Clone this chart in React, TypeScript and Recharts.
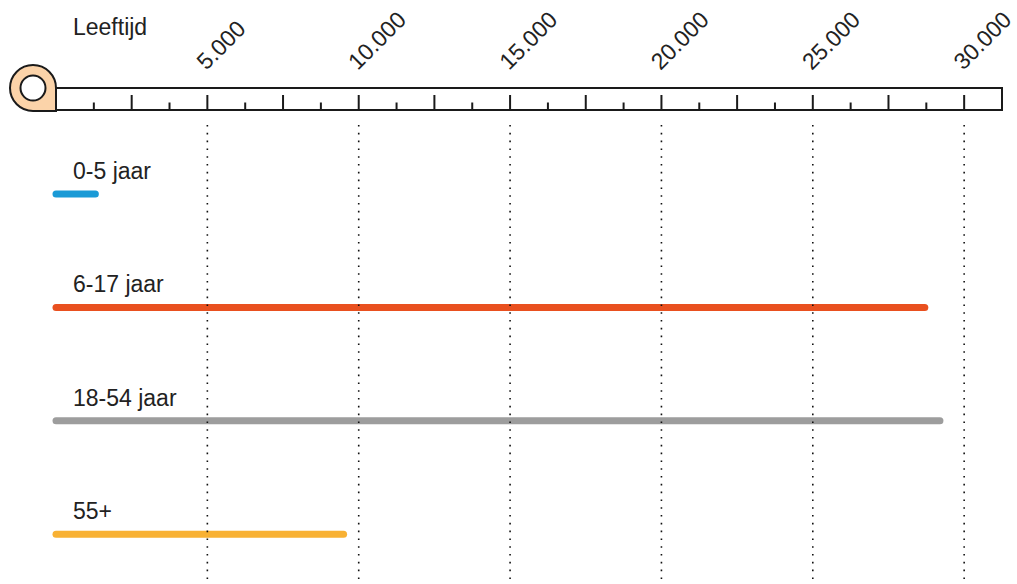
import { BarChart, Bar, XAxis, YAxis, ReferenceLine, LabelList, Cell } from 'recharts'

// Aantal per leeftijdsgroep
const AGE_GROUPS = ['0-5 jaar', '6-17 jaar', '18-54 jaar', '55+']
const COUNTS = [1300, 28700, 29200, 9500]
const BAR_COLORS = ['#1a9ad6', '#e9501f', '#9d9d9d', '#f8b133']

// Ruler along the top: minor marks every 1250, labels every 5000
const RULER_MAX = 31250
const RULER_STEP = 1250
const LABEL_STEP = 5000
const GRID_VALUES = [5000, 10000, 15000, 20000, 25000, 30000]
const AXIS_TITLE = 'Leeftijd'

const CHART_W = 1017
const CHART_H = 591
const MARGIN = { top: 85, right: 15, bottom: 0, left: 56 }
const PLOT_W = CHART_W - MARGIN.left - MARGIN.right

const FONT = '"Liberation Sans", Arial, sans-serif'
const FONT_SIZE = 23
const INK = '#1a1a1a'

const data = AGE_GROUPS.map((name, i) => ({ name, count: COUNTS[i] }))
const rulerTicks = Array.from({ length: RULER_MAX / RULER_STEP + 1 }, (_, i) => i * RULER_STEP)

const fmt = (v: number) => String(v).replace(/\B(?=(\d{3})+(?!\d))/g, '.')

function RulerTick({ x, y, payload }: { x?: number; y?: number; payload?: { value: number } }) {
  if (x == null || y == null || !payload) return <g />
  const v = payload.value
  const bottom = y - 15
  const top = y - 37
  if (v === 0) {
    // frame, rounded knob on the left and the axis title
    const r = 23
    const cx = x - r
    const cy = top
    return (
      <g>
        <rect x={x} y={top} width={PLOT_W} height={bottom - top} fill="#fff" stroke={INK} strokeWidth={2} />
        <path
          d={`M ${x} ${cy} A ${r} ${r} 0 1 0 ${cx} ${cy + r} L ${x} ${cy + r} Z`}
          fill="#fbd3a9"
          stroke={INK}
          strokeWidth={2}
        />
        <circle cx={cx} cy={cy} r={12.5} fill="#fff" stroke={INK} strokeWidth={2} />
        <text x={x + 17} y={y - 90} fontSize={FONT_SIZE} fill="#222" fontFamily={FONT}>
          {AXIS_TITLE}
        </text>
      </g>
    )
  }
  if (v >= RULER_MAX) return <g />
  const major = v % (RULER_STEP * 2) === 0
  const lx = x - 1
  const ly = y - 54
  return (
    <g>
      <line x1={x} x2={x} y1={bottom} y2={bottom - (major ? 15 : 7.5)} stroke={INK} strokeWidth={2} />
      {v % LABEL_STEP === 0 && (
        <text x={lx} y={ly} fontSize={FONT_SIZE} fill="#222" fontFamily={FONT} transform={`rotate(-45 ${lx} ${ly})`}>
          {fmt(v)}
        </text>
      )}
    </g>
  )
}

function RoundBar(props: any) {
  const { x, y, width, height, fill } = props
  if (!width || width <= 0) return null
  const cy = y + height / 2
  return (
    <line x1={x} y1={cy} x2={x + width} y2={cy} stroke={fill} strokeWidth={height} strokeLinecap="round" />
  )
}

function GroupLabel(props: any) {
  const { x, y, height, value } = props
  return (
    <text x={x + 17} y={y + height / 2 - 15} fontSize={FONT_SIZE} fill="#222" fontFamily={FONT}>
      {value}
    </text>
  )
}

export default function App() {
  return (
    <div style={{ width: CHART_W, height: 584, overflow: 'hidden', background: '#fff' }}>
      <style>{'body { margin: 0; }'}</style>
      <BarChart width={CHART_W} height={CHART_H} data={data} layout="vertical" margin={MARGIN}>
        <XAxis
          type="number"
          orientation="top"
          dataKey="count"
          domain={[0, RULER_MAX]}
          ticks={rulerTicks}
          interval={0}
          height={40}
          tickSize={0}
          tickMargin={0}
          tickLine={false}
          axisLine={false}
          tick={<RulerTick />}
        />
        <YAxis
          type="category"
          dataKey="name"
          width={0}
          tick={false}
          tickLine={false}
          axisLine={{ stroke: INK, strokeWidth: 1.5 }}
          padding={{ top: 12.5, bottom: 0 }}
        />
        {GRID_VALUES.map((v) => (
          <ReferenceLine key={v} x={v} stroke="#111" strokeWidth={1.6} strokeDasharray="1.6 6.2" />
        ))}
        <Bar dataKey="count" barSize={7} shape={<RoundBar />} isAnimationActive={false}>
          {data.map((d, i) => (
            <Cell key={d.name} fill={BAR_COLORS[i]} />
          ))}
          <LabelList dataKey="name" content={<GroupLabel />} />
        </Bar>
      </BarChart>
    </div>
  )
}
